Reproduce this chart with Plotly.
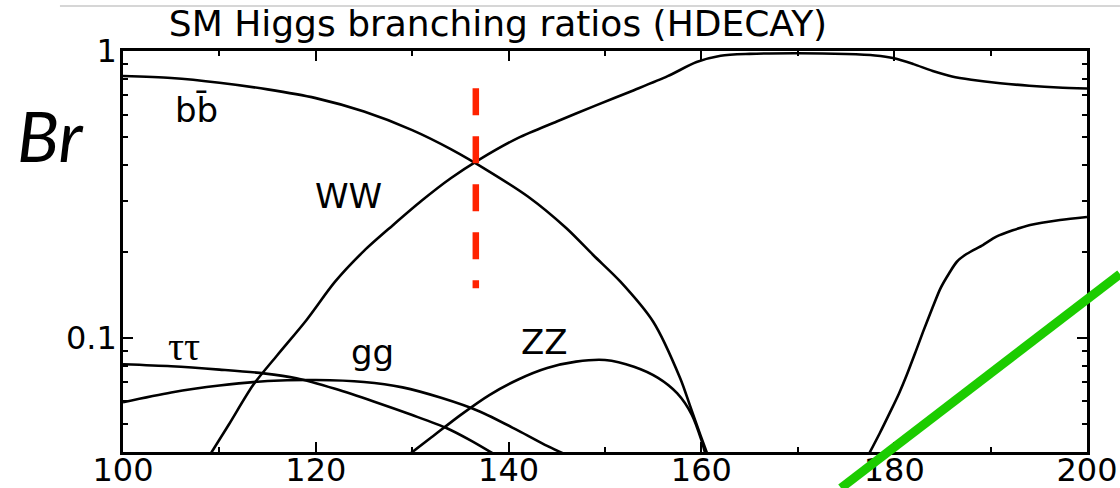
import numpy as np
import plotly.graph_objects as go

# SM Higgs branching ratios vs Higgs mass (GeV), per decay channel
bb_mass = [100.0, 105.0, 110.0, 115.0, 120.0, 125.0, 130.0, 134.0, 138.0, 142.0, 146.0, 148.8, 151.6,
           155.0, 157.8, 158.8, 159.9, 160.6]
bb_br = [0.818, 0.805, 0.775, 0.735, 0.685, 0.615, 0.530, 0.455, 0.380, 0.311, 0.241, 0.194, 0.157,
         0.1138, 0.0723, 0.0583, 0.0458, 0.0395]

ww_mass = [109.1, 111.0, 113.5, 116.0, 119.0, 122.0, 125.0, 128.0, 131.0, 134.0, 137.0, 141.0, 145.0,
           149.0, 153.0, 156.5, 159.5, 162.0, 165.0, 170.0, 175.0, 178.0, 180.0, 182.0, 184.0, 186.0,
           188.0, 191.0, 194.0, 197.0, 200.0]
ww_br = [0.0395, 0.0500, 0.0685, 0.0870, 0.1150, 0.1570, 0.2010, 0.2470, 0.3010, 0.3600, 0.4190, 0.4980,
         0.5680, 0.6450, 0.7300, 0.8170, 0.9150, 0.9630, 0.9770, 0.9820, 0.9760, 0.9650, 0.9430, 0.9000,
         0.8520, 0.8150, 0.7940, 0.7720, 0.7570, 0.7460, 0.7400]

tautau_mass = [100.0, 105.0, 110.0, 114.6, 118.0, 122.0, 126.0, 130.0, 133.6, 136.0, 138.4]
tautau_br = [0.0809, 0.0796, 0.0775, 0.0752, 0.0723, 0.0664, 0.0600, 0.0538, 0.0484, 0.0440, 0.0395]

gg_mass = [100.0, 105.0, 110.0, 115.0, 120.0, 125.0, 129.0, 133.0, 137.0, 141.0, 144.0, 145.7]
gg_br = [0.0596, 0.0645, 0.0682, 0.0707, 0.0713, 0.0702, 0.0672, 0.0618, 0.0554, 0.0475, 0.0420, 0.0395]

# ZZ below the WW threshold and above the ZZ threshold
zz_low_mass = [129.8, 132.0, 135.0, 138.0, 141.0, 144.0, 147.0, 150.0, 153.0, 155.5, 157.5, 159.0, 160.0, 160.4]
zz_low_br = [0.0395, 0.0450, 0.0538, 0.0632, 0.0716, 0.0785, 0.0826, 0.0837, 0.0793, 0.0725, 0.0640, 0.0540,
             0.0440, 0.0395]
zz_high_mass = [177.4, 178.5, 179.6, 180.5, 181.3, 182.2, 183.0, 184.0, 184.8, 185.7, 186.5, 187.5, 189.2,
                190.6, 192.3, 194.1, 197.2, 200.0]
zz_high_br = [0.0395, 0.0465, 0.0553, 0.0640, 0.0742, 0.0890, 0.1051, 0.1280, 0.1488, 0.1680, 0.1842, 0.1960,
              0.2107, 0.2253, 0.2370, 0.2474, 0.2575, 0.2638]

# marker for the bb / WW crossing
cross_mass = 136.6
cross_br_span = [0.741, 0.149]

x_ticks = [100, 120, 140, 160, 180, 200]
x_minor = [110, 130, 150, 170, 190]
y_ticks = [0.1, 1]
y_ticktext = ["0.1", "1"]
y_minor = [0.05, 0.06, 0.07, 0.08, 0.09, 0.2, 0.3, 0.4, 0.5, 0.6, 0.7, 0.8, 0.9]

# channel labels: text, mass, branching ratio
labels = [
    ("bb\u0304", 107.6, 0.625),
    ("WW", 123.4, 0.3135),
    ("gg", 125.9, 0.089),
    ("ZZ", 143.7, 0.0969),
]
tau_label = ("\u03c4\u03c4", 106.3, 0.0935)

W, H = 1120, 488
ML, MR, MT, MB = 123, 33, 51, 36
SANS = "DejaVu Sans"

fig = go.Figure()
curve_line = dict(color="black", width=2.6)
for xs, ys in [(bb_mass, bb_br), (ww_mass, ww_br), (tautau_mass, tautau_br), (gg_mass, gg_br),
               (zz_low_mass, zz_low_br), (zz_high_mass, zz_high_br)]:
    fig.add_trace(go.Scatter(x=xs, y=ys, mode="lines", line=dict(shape="spline", smoothing=0.8, **curve_line),
                             hoverinfo="skip"))

fig.add_trace(go.Scatter(x=[cross_mass, cross_mass], y=cross_br_span, mode="lines",
                         line=dict(color="#ff2200", width=6.5, dash="27px,21px"), hoverinfo="skip"))

for text, xm, yb in labels:
    fig.add_annotation(x=xm, y=np.log10(yb), xref="x", yref="y", text=text, showarrow=False,
                       xanchor="center", yanchor="middle",
                       font=dict(family=SANS, size=34, color="black"))
fig.add_annotation(x=tau_label[1], y=np.log10(tau_label[2]), xref="x", yref="y", text=tau_label[0],
                   showarrow=False, xanchor="center", yanchor="middle",
                   font=dict(family="Liberation Serif", size=40, color="black"))

# axis quantity on the left
fig.add_annotation(x=-0.0757, y=0.79, xref="paper", yref="paper", text="<i>Br</i>", showarrow=False,
                   xanchor="center", yanchor="middle", font=dict(family="Lato", size=70, color="black"))

# thin rule across the top and green slash over the lower right
fig.add_shape(type="line", xref="paper", yref="paper", x0=-0.0654, x1=1.0342, y0=1.1122, y1=1.1122,
              line=dict(color="#c8c8c8", width=1.5), layer="above")
fig.add_shape(type="line", xref="paper", yref="paper", x0=0.7448, y0=-0.0898, x1=1.0342, y1=0.4439,
              line=dict(color="#1ccc00", width=9), layer="above")

axis_common = dict(showline=True, linewidth=2.6, linecolor="black", mirror="ticks", showgrid=False,
                   zeroline=False, ticks="inside", ticklen=10, tickwidth=2.2, tickcolor="black",
                   automargin=False, tickfont=dict(family=SANS, size=32, color="black"))
fig.update_xaxes(range=[100, 200], tickmode="array", tickvals=x_ticks, ticktext=[str(v) for v in x_ticks],
                 ticklabelstandoff=-12,
                 minor=dict(ticks="inside", ticklen=5, tickwidth=2.2, tickcolor="black", tickmode="array",
                            tickvals=x_minor),
                 **axis_common)
fig.update_yaxes(type="log", range=[np.log10(0.04), 0], tickmode="array", tickvals=y_ticks,
                 ticktext=y_ticktext, ticklabelstandoff=-3,
                 minor=dict(ticks="inside", ticklen=5, tickwidth=2.2, tickcolor="black", tickmode="array",
                            tickvals=y_minor),
                 **axis_common)

fig.update_layout(
    width=W, height=H, margin=dict(l=ML, r=MR, t=MT, b=MB, pad=0, autoexpand=False),
    paper_bgcolor="white", plot_bgcolor="white", showlegend=False,
    title=dict(text="SM Higgs branching ratios (HDECAY)", x=0.389, xref="paper", xanchor="center",
               y=1 - 23 / H, yref="container", yanchor="middle",
               font=dict(family=SANS, size=36, color="black")),
)

fig.write_html("out.html")
